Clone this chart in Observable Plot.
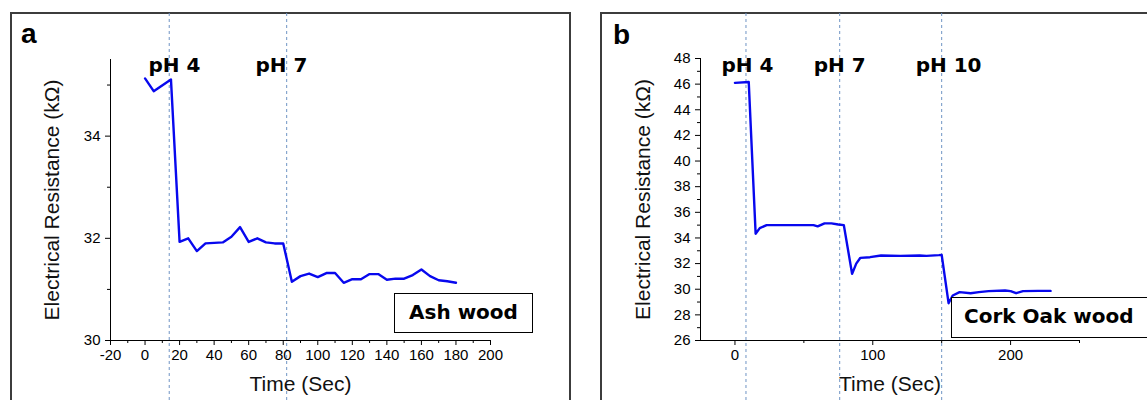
<!DOCTYPE html>
<html>
<head>
<meta charset="utf-8">
<script src="https://cdn.jsdelivr.net/npm/d3@7"></script>
<script src="https://cdn.jsdelivr.net/npm/@observablehq/plot@0.6"></script>
<style>
  html, body { margin: 0; padding: 0; background: #fff; }
  #page { position: relative; width: 1147px; height: 400px; overflow: hidden; background: #fff; font-family: 'Liberation Sans', Arial, sans-serif; }
  .panel { position: absolute; top: 0; }
  .frame { position: absolute; box-sizing: border-box; border: 2px solid #3c3c3c; }
  .letter { position: absolute; font: bold 28px 'Liberation Sans', Arial, sans-serif; line-height: 28px; color: #000; }
  .box { position: absolute; box-sizing: border-box; border: 1.6px solid #000; background: #fff;
         font: bold 20px 'DejaVu Sans', sans-serif; color: #000; line-height: 37px; white-space: nowrap; overflow: hidden; }
  #page svg [aria-label$="tick label"], #page svg [aria-label$="tick label"] text { font-size: 15px !important; }
</style>
</head>
<body>
<div id="page">
  <div class="frame" style="left:10px; top:12px; width:561px; height:500px;"></div>
  <div class="frame" style="left:600px; top:12px; width:600px; height:500px;"></div>
  <div id="panelA" class="panel" style="left:0px;"></div>
  <div id="panelB" class="panel" style="left:580px;"></div>
  <div class="letter" style="left:21px; top:20px;">a</div>
  <div class="letter" style="left:613px; top:21px;">b</div>
  <div class="box" style="left:394px; top:293px; width:139px; height:40px; text-align:center;">Ash wood</div>
  <div class="box" style="left:951px; top:297px; width:260px; height:41px; padding-left:12px;">Cork Oak wood</div>
</div>
<script>
// ---------- Panel a: Ash wood ----------
const aTime = [0, 5, 15, 20, 25, 30, 35, 40, 45, 50, 55, 60, 65, 70, 75, 80, 85, 90, 95, 100, 105, 110, 115, 120, 125, 130, 135, 140, 145, 150, 155, 160, 165, 170, 175, 180];
const aResistance = [35.13, 34.88, 35.11, 31.93, 32.0, 31.75, 31.9, 31.91, 31.92, 32.03, 32.22, 31.93, 32.0, 31.92, 31.9, 31.9, 31.15, 31.26, 31.31, 31.24, 31.32, 31.32, 31.13, 31.2, 31.2, 31.3, 31.3, 31.19, 31.21, 31.21, 31.28, 31.39, 31.26, 31.18, 31.16, 31.13];
const aPhTimes = [14, 82];
const aPhLabels = ["pH 4", "pH 7"];
const aPhLabelX = [17, 79];
const aXTicks = [-20, 0, 20, 40, 60, 80, 100, 120, 140, 160, 180, 200];
const aXMinor = [-10, 10, 30, 50, 70, 90, 110, 130, 150, 170, 190];
const aYTicks = [30, 32, 34];
const aYMinor = [31, 33, 35];

// ---------- Panel b: Cork Oak wood ----------
const bTime = [0, 10, 15, 18, 23, 57, 60, 65, 70, 75, 79, 85, 88, 91, 98, 106, 120, 134, 139, 148, 150, 155, 158, 163, 171, 177, 184, 196, 200, 204, 209, 220, 229];
const bResistance = [46.1, 46.17, 34.33, 34.77, 35.0, 35.0, 34.9, 35.14, 35.14, 35.05, 35.0, 31.2, 32.0, 32.45, 32.5, 32.63, 32.6, 32.63, 32.6, 32.66, 32.68, 28.91, 29.51, 29.77, 29.69, 29.77, 29.85, 29.9, 29.85, 29.69, 29.85, 29.87, 29.87];
const bPhTimes = [8, 76, 150];
const bPhLabels = ["pH 4", "pH 7", "pH 10"];
const bPhLabelX = [9, 76, 155];
const bXTicks = [0, 100, 200];
const bXMinor = [50, 150, 250];
const bYTicks = [26, 28, 30, 32, 34, 36, 38, 40, 42, 44, 46, 48];
const bYMinor = [27, 29, 31, 33, 35, 37, 39, 41, 43, 45, 47];

const xLabel = "Time (Sec)";
const yLabel = "Electrical Resistance (kΩ)";

const lineColor = "#0808ee";
const dashColor = "#6f94c4";
const tickFont = "'Liberation Sans', Arial, sans-serif";

function panel({time, values, phTimes, phLabels, phLabelX, xDomain, yDomain, xTicks, xMinor, yTicks, yMinor,
                width, marginLeft, marginRight, marginTop, marginBottom, yLabelDx, phDy}) {
  const data = time.map((t, i) => ({t, v: values[i]}));
  const H = 400;
  return Plot.plot({
    width, height: H, marginLeft, marginRight, marginTop, marginBottom,
    style: {fontFamily: tickFont, fontSize: "15px", background: "transparent", color: "#000", overflow: "visible"},
    x: {domain: xDomain},
    y: {domain: yDomain},
    marks: [
      Plot.ruleX(phTimes, {x: d => d, stroke: dashColor, strokeWidth: 1, strokeDasharray: "3,3",
                           insetTop: -(marginTop - 13), insetBottom: -(marginBottom)}),
      Plot.ruleX([xDomain[0]], {stroke: "#000", strokeWidth: 1}),
      Plot.ruleY([yDomain[0]], {stroke: "#000", strokeWidth: 1}),
      Plot.axisX({ticks: xTicks, tickSize: 5, tickPadding: 4, tickFormat: d => String(d), label: null, fontSize: 15}),
      Plot.axisX({ticks: xMinor, tickSize: 3, tickFormat: () => "", label: null}),
      Plot.axisY({ticks: yTicks, tickSize: 5, tickPadding: 5, tickFormat: d => String(d), label: null, fontSize: 15}),
      Plot.axisY({ticks: yMinor, tickSize: 3, tickFormat: () => "", label: null}),
      Plot.line(data, {x: "t", y: "v", stroke: lineColor, strokeWidth: 2.4, strokeLinejoin: "round"}),
      Plot.text(phLabels, {x: (d, i) => phLabelX[i], frameAnchor: "top", dy: phDy, text: d => d,
                           fontFamily: "'DejaVu Sans', sans-serif", fontWeight: "bold", fontSize: 20, fill: "#000"}),
      Plot.text([xLabel], {frameAnchor: "bottom", dy: 50, text: d => d, fontSize: 21, fill: "#111", fontFamily: tickFont, textAnchor: "middle"}),
      Plot.text([yLabel], {frameAnchor: "left", dx: yLabelDx, rotate: -90, text: d => d, fontSize: 21, fill: "#111", fontFamily: tickFont, textAnchor: "middle"})
    ]
  });
}

document.getElementById("panelA").appendChild(panel({
  time: aTime, values: aResistance, phTimes: aPhTimes, phLabels: aPhLabels, phLabelX: aPhLabelX,
  xDomain: [-20, 200], yDomain: [30, 35.5], xTicks: aXTicks, xMinor: aXMinor, yTicks: aYTicks, yMinor: aYMinor,
  width: 580, marginLeft: 110, marginRight: 90, marginTop: 59, marginBottom: 60, yLabelDx: -58, phDy: -1.5
}));

document.getElementById("panelB").appendChild(panel({
  time: bTime, values: bResistance, phTimes: bPhTimes, phLabels: bPhLabels, phLabelX: bPhLabelX,
  xDomain: [-25, 250], yDomain: [26, 48], xTicks: bXTicks, xMinor: bXMinor, yTicks: bYTicks, yMinor: bYMinor,
  width: 567, marginLeft: 120, marginRight: 68, marginTop: 58, marginBottom: 60, yLabelDx: -57, phDy: -0.5
}));
</script>
</body>
</html>
